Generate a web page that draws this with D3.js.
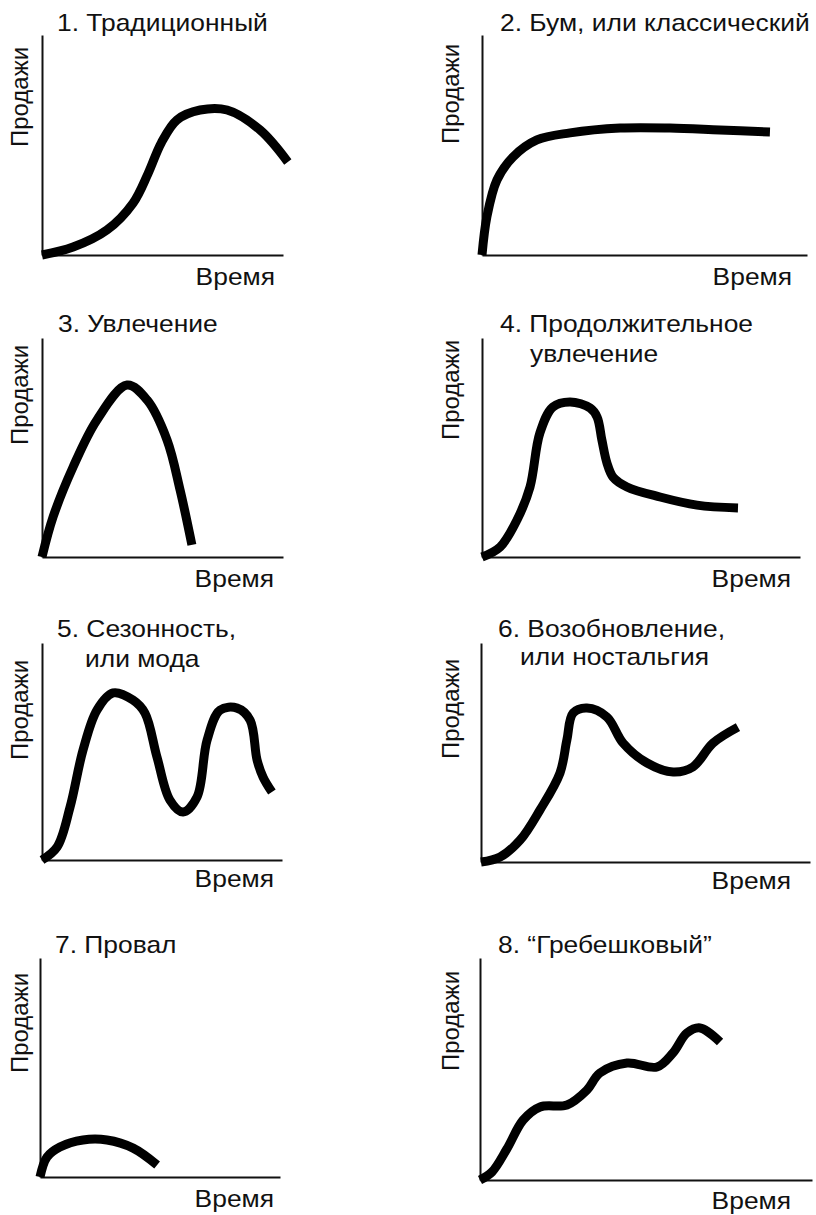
<!DOCTYPE html>
<html>
<head>
<meta charset="utf-8">
<script src="https://cdn.jsdelivr.net/npm/d3@7"></script>
<style>
  body { margin: 0; background: #fff; }
  text { font-family: "Liberation Sans", Arial, sans-serif; fill: #111; }
</style>
</head>
<body>
<script>
// panel titles (one array per line)
const titles = [
  ["1. Традиционный"],
  ["2. Бум, или классический"],
  ["3. Увлечение"],
  ["4. Продолжительное", "увлечение"],
  ["5. Сезонность,", "или мода"],
  ["6. Возобновление,", "или ностальгия"],
  ["7. Провал"],
  ["8. “Гребешковый”"]
];
const yLabel = "Продажи";
const xLabel = "Время";

// curves: [time, sales], both on a 0..10 scale of each panel's axes
const traditional = [[0,0],[1.29,0.36],[2.7,1.14],[3.78,2.36],[4.4,3.7],[4.95,5.1],[5.6,6.14],[6.56,6.59],[7.68,6.59],[9.05,5.68],[10.2,4.23]];
const boom = [[0,0],[0.15,1.73],[0.46,3.41],[0.95,4.45],[1.69,5.23],[2.71,5.55],[4.25,5.77],[5.78,5.77],[7.32,5.68],[8.86,5.59]];
const fad = [[0,0],[0.46,1.83],[1.29,4.11],[2.28,6.26],[3.53,7.85],[4.36,7.17],[5.19,5.34],[5.73,3.06],[6.22,0.55]];
const extendedFad = [[0,0],[0.57,0.46],[1.1,1.69],[1.51,3.2],[1.82,5.66],[2.23,6.85],[2.77,7.08],[3.4,6.8],[3.62,6.39],[3.77,5.34],[3.93,4.29],[4.12,3.65],[4.56,3.2],[5.6,2.74],[6.76,2.37],[8.05,2.24]];
const seasonal = [[0,0],[0.63,0.6],[1.17,2.44],[1.71,5.07],[2.29,6.91],[2.96,7.7],[3.79,7.37],[4.29,6.77],[4.79,4.75],[5.33,2.76],[5.88,2.21],[6.46,2.9],[6.88,5.53],[7.42,6.91],[8.13,7.0],[8.67,6.45],[8.96,4.61],[9.21,3.82],[9.58,3.13]];
const revival = [[0,0],[0.58,0.23],[1.19,1.0],[1.79,2.37],[2.4,4.06],[2.61,5.57],[2.8,6.8],[3.22,7.03],[3.83,6.62],[4.32,5.43],[5.05,4.52],[5.84,4.11],[6.44,4.34],[7.05,5.43],[7.81,6.16]];
const flop = [[0,0],[0.29,0.91],[0.83,1.37],[1.79,1.69],[2.79,1.69],[3.88,1.32],[4.88,0.55]];
const scalloped = [[0,0],[0.36,0.36],[0.81,1.4],[1.3,2.7],[1.81,3.29],[2.62,3.38],[3.22,4.05],[3.61,4.82],[4.43,5.27],[5.33,5.09],[5.81,5.72],[6.23,6.62],[6.63,6.85],[7.23,6.22]];

const series = [traditional, boom, fad, extendedFad, seasonal, revival, flop, scalloped];

// layout of each panel (pixels)
const layout = [
  {x0: 42,  x1: 283, y0: 255,  y1: 35,  tx: [57, 57],   ty: [31, 61],     ylc: 97,   xl: 275, xly: 285},
  {x0: 482, x1: 807, y0: 255,  y1: 35,  tx: [500, 500], ty: [31, 61],     ylc: 94,   xl: 792, xly: 285},
  {x0: 42,  x1: 283, y0: 557,  y1: 338, tx: [58, 58],   ty: [332, 362],   ylc: 395,  xl: 274, xly: 587},
  {x0: 482, x1: 800, y0: 557,  y1: 338, tx: [500, 530], ty: [332, 362],   ylc: 390,  xl: 791, xly: 587},
  {x0: 42,  x1: 282, y0: 860,  y1: 643, tx: [57, 85],   ty: [637, 667],   ylc: 710,  xl: 274, xly: 887},
  {x0: 481, x1: 810, y0: 862,  y1: 643, tx: [498, 520], ty: [637, 665],   ylc: 709,  xl: 791, xly: 889},
  {x0: 40,  x1: 280, y0: 1177, y1: 958, tx: [55, 55],   ty: [953, 983],   ylc: 1023, xl: 274, xly: 1207},
  {x0: 480, x1: 812, y0: 1180, y1: 958, tx: [498, 498], ty: [953, 983],   ylc: 1021, xl: 791, xly: 1209}
];

const fontSize = 24;
const stretch = 1.1; // the scan is a bit wider than tall

const svg = d3.select("body").append("svg")
  .attr("width", 816)
  .attr("height", 1215);

layout.forEach((p, i) => {
  let g = svg.append("g");
  let x = d3.scaleLinear().domain([0, 10]).range([p.x0, p.x1]);
  let y = d3.scaleLinear().domain([0, 10]).range([p.y0, p.y1]);

  // axes: plain lines, no ticks
  g.append("g")
    .attr("transform", "translate(0," + p.y0 + ")")
    .call(d3.axisBottom(x).ticks(0).tickSize(0))
    .call(a => a.select(".domain").attr("stroke", "#111").attr("stroke-width", 2));
  g.append("g")
    .attr("transform", "translate(" + p.x0 + ",0)")
    .call(d3.axisLeft(y).ticks(0).tickSize(0))
    .call(a => a.select(".domain").attr("stroke", "#111").attr("stroke-width", 2));

  // curve
  g.append("path")
    .datum(series[i])
    .attr("fill", "none")
    .attr("stroke", "#000")
    .attr("stroke-width", 9)
    .attr("stroke-linecap", "butt")
    .attr("stroke-linejoin", "round")
    .attr("d", d3.line()
      .x(d => x(d[0]))
      .y(d => y(d[1]))
      .curve(d3.curveCatmullRom.alpha(0.5)));

  // title
  titles[i].forEach((t, j) => {
    g.append("text")
      .attr("transform", "translate(" + p.tx[j] + "," + p.ty[j] + ") scale(" + stretch + ",1)")
      .style("font-size", fontSize + "px")
      .text(t);
  });

  // axis labels
  g.append("text")
    .attr("transform", "translate(" + (p.x0 < 400 ? 28 : 459) + "," + p.ylc + ") rotate(-90)")
    .attr("text-anchor", "middle")
    .style("font-size", fontSize + "px")
    .text(yLabel);
  g.append("text")
    .attr("transform", "translate(" + p.xl + "," + p.xly + ") scale(" + stretch + ",1)")
    .attr("text-anchor", "end")
    .style("font-size", fontSize + "px")
    .text(xLabel);
});
</script>
</body>
</html>
